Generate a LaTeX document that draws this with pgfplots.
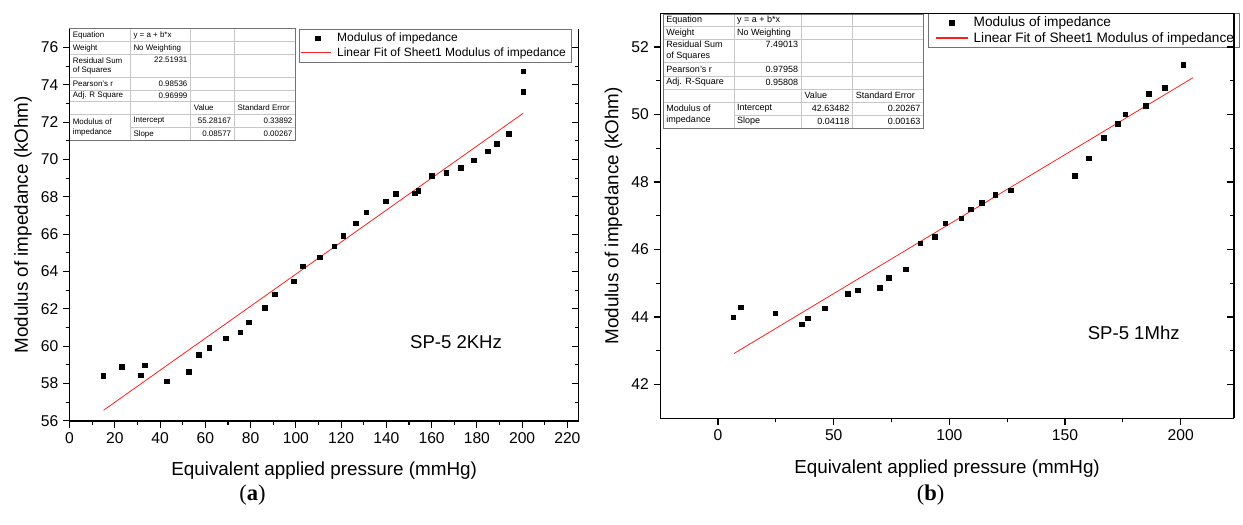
\documentclass[border=0pt]{standalone}
\usepackage{fontspec}
\setmainfont{Liberation Sans}
\newfontfamily\capfont{Liberation Serif}
\usepackage{pgfplots}
\pgfplotsset{compat=1.18}

\pgfplotstableread{
x y
14.8 58.40
23.1 58.91
31.5 58.45
33.2 58.98
42.9 58.13
52.8 58.63
57.1 59.53
61.8 59.93
68.9 60.42
75.4 60.74
79.3 61.28
86.2 62.07
90.7 62.79
99.1 63.48
103.0 64.28
110.5 64.76
116.9 65.36
120.9 65.93
126.6 66.59
131.1 67.17
139.8 67.76
144.2 68.15
152.5 68.20
154.1 68.34
160.2 69.14
166.5 69.29
173.0 69.55
178.7 69.96
184.8 70.44
188.8 70.83
194.1 71.38
200.5 73.64
200.5 74.73
}\dataA

\pgfplotstableread{
x y
6.6 43.99
9.8 44.29
24.7 44.11
36.1 43.79
38.7 43.96
46.1 44.26
56.2 44.68
60.5 44.79
69.9 44.86
73.9 45.17
81.2 45.41
87.4 46.19
93.8 46.38
98.2 46.78
105.2 46.93
109.3 47.19
114.0 47.38
119.8 47.62
126.6 47.76
154.1 48.18
160.3 48.70
166.6 49.31
172.9 49.72
176.1 50.01
185.0 50.26
186.2 50.62
193.0 50.79
201.1 51.48
}\dataB

\definecolor{fitred}{RGB}{255,30,30}
\pgfplotsset{
  common/.style={
    scale only axis, anchor=south west,
    /pgf/number format/assume math mode=true,
    tick label style={font=\fontsize{11.8}{13}\selectfont},
    label style={font=\fontsize{14.2}{16}\selectfont},
    xlabel style={yshift=-7.5pt},
    axis line style={line width=1pt, -},
    tick style={line width=0.9pt, black},
    major tick length=5pt, minor tick length=3pt,
  },
  lmkA/.style={legend image code/.code={\path[draw=none] (0pt,-2pt) rectangle (24pt,2pt); \draw[##1] plot coordinates {(14pt,0pt)};}},
  llnA/.style={legend image code/.code={\path[draw=none] (0pt,-2pt) rectangle (24pt,2pt); \draw[draw=fitred, line width=0.9pt] (1pt,0.3pt) -- (24pt,0.3pt);}},
  lmkB/.style={legend image code/.code={\path[draw=none] (0pt,-2pt) rectangle (30pt,2pt); \draw[##1] plot coordinates {(18pt,0pt)};}},
  llnB/.style={legend image code/.code={\path[draw=none] (0pt,-2pt) rectangle (30pt,2pt); \draw[draw=fitred, line width=0.9pt] (6pt,0pt) -- (30pt,0pt);}},
}

% table drawing macro (coordinates in px, set via \ca..\ce, \ra..\ri)
\newcommand\drawtbl[9]{%
 \fill[white] (\ca,\ra) rectangle (\ce,\ri);
 \draw[line width=0.4pt, black!22]
   (\ca,\rb) -- (\ce,\rb) (\ca,\rc) -- (\ce,\rc) (\ca,\rd) -- (\ce,\rd)
   (\ca,\re) -- (\ce,\re) (\ca,\rf) -- (\ce,\rf) (\ca,\rg) -- (\ce,\rg)
   (\cb,\rh) -- (\ce,\rh)
   (\cb,\ra) -- (\cb,\ri) (\cc,\ra) -- (\cc,\ri) (\cd,\ra) -- (\cd,\ri);
 \draw[line width=0.6pt, black!55] (\ca,\ra) rectangle (\ce,\ri);
 \begin{scope}[every node/.style={font=#1, inner sep=0pt}]
 \node[anchor=west] at ({\ca+3},{(\ra+\rb)/2}) {Equation};
 \node[anchor=west] at ({\cb+3},{(\ra+\rb)/2}) {y = a + b*x};
 \node[anchor=west] at ({\ca+3},{(\rb+\rc)/2}) {Weight};
 \node[anchor=west] at ({\cb+3},{(\rb+\rc)/2}) {No Weighting};
 \node[anchor=west, align=left] at ({\ca+3},{(\rc+\rd)/2}) {Residual Sum\\of Squares};
 \node[anchor=north east] at ({\cc-3},{\rc+2}) {#2};
 \node[anchor=west] at ({\ca+3},{(\rd+\re)/2}) {Pearson's r};
 \node[anchor=east] at ({\cc-3},{(\rd+\re)/2}) {#3};
 \node[anchor=west] at ({\ca+3},{(\re+\rf)/2}) {#4};
 \node[anchor=east] at ({\cc-3},{(\re+\rf)/2}) {#5};
 \node[anchor=west] at ({\cc+3},{(\rf+\rg)/2}) {Value};
 \node[anchor=west] at ({\cd+3},{(\rf+\rg)/2}) {Standard Error};
 \node[anchor=west, align=left] at ({\ca+3},{(\rg+\ri)/2}) {Modulus of\\impedance};
 \node[anchor=west] at ({\cb+3},{(\rg+\rh)/2}) {Intercept};
 \node[anchor=east] at ({\cd-3},{(\rg+\rh)/2}) {#6};
 \node[anchor=east] at ({\ce-3},{(\rg+\rh)/2}) {#7};
 \node[anchor=west] at ({\cb+3},{(\rh+\ri)/2}) {Slope};
 \node[anchor=east] at ({\cd-3},{(\rh+\ri)/2}) {#8};
 \node[anchor=east] at ({\ce-3},{(\rh+\ri)/2}) {#9};
 \end{scope}}

\begin{document}
\begin{tikzpicture}
% pixel-coordinate scope (origin top-left, 1px = 0.75pt)
\begin{scope}[yshift=396pt, x=0.75pt, y=-0.75pt]
 \path[use as bounding box] (0,0) rectangle (1243,528);
 % left table
 \def\ca{70}\def\cb{131}\def\cc{191.7}\def\cd{235.7}\def\ce{297.3}
 \def\ra{29}\def\rb{41.7}\def\rc{55}\def\rd{77.7}\def\re{90.7}\def\rf{102.3}\def\rg{115}\def\rh{128.3}\def\ri{141.7}
 \drawtbl{\fontsize{6}{7.5}\selectfont}{22.51931}{0.98536}{Adj. R Square}{0.96999}{55.28167}{0.33892}{0.08577}{0.00267}
 % right table
 \def\ca{667}\def\cb{738}\def\cc{806}\def\cd{857.5}\def\ce{929}
 \def\ra{14.5}\def\rb{26.5}\def\rc{39.5}\def\rd{63}\def\re{76.5}\def\rf{89.5}\def\rg{102.5}\def\rh{115.5}\def\ri{129}
 \drawtbl{\fontsize{6.8}{8.3}\selectfont}{7.49013}{0.97958}{Adj. R-Square}{0.95808}{42.63482}{0.20267}{0.04118}{0.00163}
 % captions
 \node[font=\capfont\fontsize{17}{19}\selectfont] at (254,498) {(\textbf{a})};
 \node[font=\capfont\fontsize{17}{19}\selectfont] at (936,498) {(\textbf{b})};
\end{scope}

% ---------- left panel ----------
\begin{axis}[common,
  at={(52.5pt,78.525pt)}, width=384pt, height=295.725pt,
  xmin=0, xmax=225, ymin=56, ymax=77,
  xtick={0,20,...,220}, minor xtick={10,30,...,210},
  ytick={56,58,...,76}, minor ytick={57,59,...,75},
  axis x line*=bottom, axis y line*=left, tick align=outside,
  xlabel={Equivalent applied pressure (mmHg)},
  ylabel={Modulus of impedance (kOhm)},
  legend style={at={(0.4506,1)}, anchor=north west, draw=black!55, line width=0.6pt,
    fill=white, font=\fontsize{9.05}{10}\selectfont, inner xsep=0pt, inner ysep=1.8pt,
    row sep=1.2pt, nodes={inner ysep=1pt, inner xsep=4pt}},
  legend cell align=left,
]
\addplot[only marks, mark=square*, mark size=1.75pt, black, lmkA]
  table[x=x,y=y] {\dataA};
\addplot[fitred, line width=0.6pt, llnA]
  coordinates {(15,56.568) (200.5,72.478)};
\legend{Modulus of impedance, Linear Fit of Sheet1 Modulus of impedance}
\node[font=\fontsize{14}{16}\selectfont] at (axis cs:170.8,60.22) {SP-5 2KHz};
\end{axis}
\begin{axis}[common,
  at={(52.5pt,78.525pt)}, width=384pt, height=295.725pt,
  xmin=0, xmax=225, ymin=56, ymax=77,
  axis x line=none, axis y line*=right, tick align=inside,
  ytick={56,58,...,76}, minor ytick={57,59,...,75}, yticklabels={},
]
\addplot[draw=none] coordinates {(0,56)};
\end{axis}

% ---------- right panel ----------
\begin{axis}[common,
  at={(498pt,80.475pt)}, width=432.75pt, height=305.55pt,
  xmin=-25, xmax=223, ymin=41, ymax=53,
  xtick={0,50,...,200}, minor xtick={25,75,125,175},
  ytick={42,44,...,52}, minor ytick={43,45,...,51},
  axis x line*=bottom, axis y line*=left, tick align=outside,
  xlabel={Equivalent applied pressure (mmHg)},
  ylabel={Modulus of impedance (kOhm)},
  legend style={at={(0.4660,1)}, anchor=north west, draw=black!55, line width=0.6pt,
    fill=white, font=\fontsize{10.3}{11}\selectfont, inner xsep=0pt, inner ysep=1.5pt,
    row sep=0.5pt, nodes={inner ysep=1pt, inner xsep=4pt}},
  legend cell align=left,
]
\addplot[only marks, mark=square*, mark size=1.75pt, black, lmkB]
  table[x=x,y=y] {\dataB};
\addplot[fitred, line width=0.6pt, llnB]
  coordinates {(6.9,42.919) (205.3,51.089)};
\legend{Modulus of impedance, Linear Fit of Sheet1 Modulus of impedance}
\node[font=\fontsize{14}{16}\selectfont] at (axis cs:179.7,43.54) {SP-5 1Mhz};
\end{axis}
\begin{axis}[common,
  at={(498pt,80.475pt)}, width=432.75pt, height=305.55pt,
  xmin=-25, xmax=223, ymin=41, ymax=53,
  axis x line*=top, xtick=\empty, axis y line*=right, tick align=inside,
  ytick={42,44,...,52}, minor ytick={43,45,...,51}, yticklabels={},
]
\addplot[draw=none] coordinates {(0,42)};
\end{axis}
\end{tikzpicture}
\end{document}
